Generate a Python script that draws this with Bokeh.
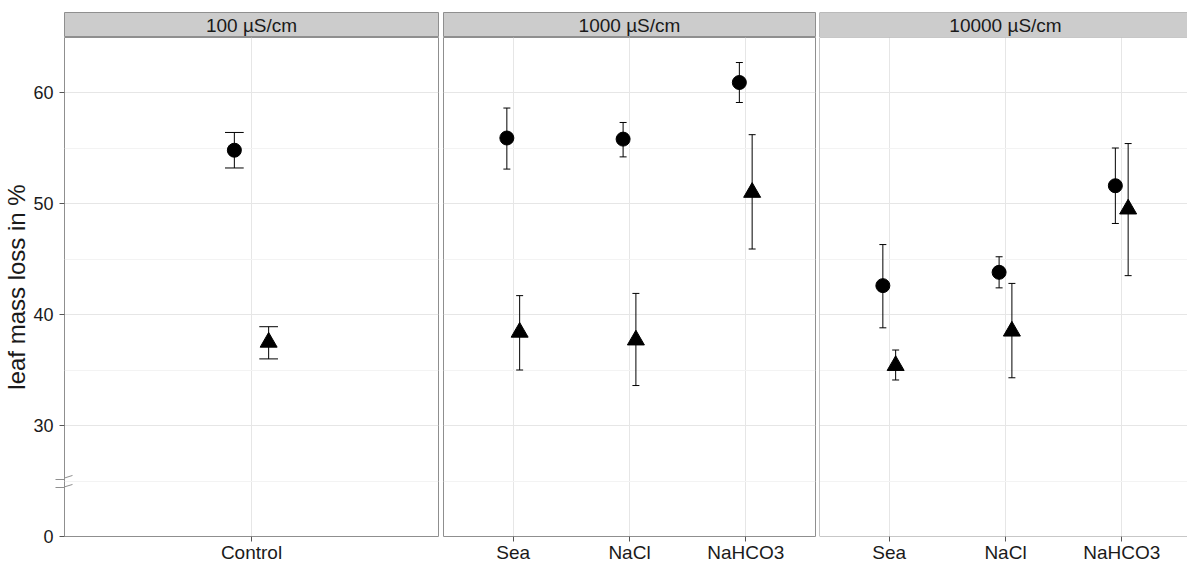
from bokeh.plotting import figure
from bokeh.layouts import row, column
from bokeh.models import Range1d, FixedTicker, LinearAxis, Grid, Span
from bokeh.core.properties import value
from bokeh.embed import file_html
from bokeh.resources import INLINE

# ---------------- data ----------------
facet_labels = ["100 µS/cm", "1000 µS/cm", "10000 µS/cm"]
facet_categories = [["Control"], ["Sea", "NaCl", "NaHCO3"], ["Sea", "NaCl", "NaHCO3"]]

circle_mean = [[54.8], [55.9, 55.8, 60.9], [42.6, 43.8, 51.6]]
circle_lower = [[53.2], [53.1, 54.2, 59.1], [38.8, 42.4, 48.2]]
circle_upper = [[56.4], [58.6, 57.3, 62.7], [46.3, 45.2, 55.0]]

triangle_mean = [[37.5], [38.4, 37.7, 51.0], [35.4, 38.5, 49.5]]
triangle_lower = [[36.0], [35.0, 33.6, 45.9], [34.1, 34.3, 43.5]]
triangle_upper = [[38.9], [41.7, 41.9, 56.2], [36.8, 42.8, 55.4]]

y_ticks = [20, 30, 40, 50, 60]          # 20 is the broken-axis position of "0"
y_tick_labels = ["0", "30", "40", "50", "60"]
y_minor = [25, 35, 45, 55]
y_label = "leaf mass loss in %"

# ---------------- style ----------------
FONT = "Liberation Sans"
BORDER = "#8F8F8F"
GRID = "#E6E6E6"
MINOR = "#F3F3F3"
TICK = "#555555"
TEXT = "#1A1A1A"
STRIP_FILL = "#CCCCCC"

PANEL_H = 499
STRIP_H = 25
PX_PER_UNIT = 11.1
Y_BOTTOM = 20.0
Y_TOP = Y_BOTTOM + PANEL_H / PX_PER_UNIT
DODGE = 0.055
CAP = 0.03
BREAK_OUT = [25.16, 24.37]     # axis-break marks (outside part)
BREAK_IN = [(25.27, 25.50), (24.47, 24.69)]  # axis-break marks (inside part)

frame_widths = [374, 372, 368]
full_widths = [374, 372, 372]
x_full_end = [1.6, 3.6, 3.6]
left_borders = [64, 0, 0]
right_borders = [5, 4, 0]


def base_fig(fw, fh, xr, yr, i, top, bottom):
    p = figure(frame_width=fw, frame_height=fh, x_range=xr, y_range=yr,
               output_backend="svg", toolbar_location=None,
               x_axis_location=None, y_axis_location=None,
               min_border_top=top, min_border_bottom=bottom,
               min_border_left=left_borders[i], min_border_right=right_borders[i])
    p.center = [c for c in p.center if not isinstance(c, Grid)]
    p.background_fill_color = "white"
    p.border_fill_color = "white"
    if i < 2:
        p.outline_line_color = BORDER
        p.outline_line_width = 1
    else:
        p.outline_line_color = None
    return p


def make_column(i):
    cats = facet_categories[i]
    xs = list(range(1, len(cats) + 1))
    fw = frame_widths[i]
    x_end = 0.4 + (x_full_end[i] - 0.4) * fw / full_widths[i]
    xr = Range1d(0.4, x_end)

    # ---- strip ----
    s = base_fig(fw, STRIP_H, xr, Range1d(0, 1), i, 12, 0)
    s.background_fill_color = STRIP_FILL
    s.text(x=[(0.4 + x_full_end[i]) / 2], y=[0.5], text=[facet_labels[i]],
           text_align="center", text_baseline="middle",
           text_font=value(FONT), text_font_size="19px", text_color=TEXT)
    if i == 2:
        for loc, dim in [(0.4, "height"), (0, "width"), (1, "width")]:
            s.add_layout(Span(location=loc, dimension=dim, line_color=BORDER, line_width=1))

    # ---- panel ----
    p = base_fig(fw, PANEL_H, xr, Range1d(Y_BOTTOM, Y_TOP), i, 0, 29)
    if i == 2:
        for loc, dim in [(0.4, "height"), (Y_BOTTOM, "width"), (Y_TOP, "width")]:
            p.add_layout(Span(location=loc, dimension=dim, line_color=BORDER, line_width=1))

    p.add_layout(Grid(dimension=0, ticker=FixedTicker(ticks=xs), grid_line_color=GRID, grid_line_width=1))
    p.add_layout(Grid(dimension=1, ticker=FixedTicker(ticks=[30, 40, 50, 60], minor_ticks=y_minor),
                      grid_line_color=GRID, grid_line_width=1,
                      minor_grid_line_color=MINOR, minor_grid_line_width=1))

    xaxis = LinearAxis(ticker=FixedTicker(ticks=xs, minor_ticks=[]),
                       major_label_overrides={x: c for x, c in zip(xs, cats)},
                       axis_line_color=None, major_tick_out=5, major_tick_in=0,
                       minor_tick_out=0, minor_tick_in=0,
                       major_tick_line_color=TICK,
                       major_label_text_font=FONT, major_label_text_font_size="19px",
                       major_label_text_color=TEXT, major_label_standoff=0)
    p.add_layout(xaxis, "below")

    if i == 0:
        yaxis = LinearAxis(ticker=FixedTicker(ticks=y_ticks, minor_ticks=BREAK_OUT),
                           major_label_overrides={t: l for t, l in zip(y_ticks, y_tick_labels)},
                           axis_line_color=None, major_tick_out=5, major_tick_in=0,
                           minor_tick_out=9, minor_tick_in=0,
                           major_tick_line_color=TICK, minor_tick_line_color=BORDER,
                           major_label_text_font=FONT, major_label_text_font_size="18px",
                           major_label_text_color=TEXT, major_label_standoff=2,
                           axis_label=y_label, axis_label_standoff=0,
                           axis_label_text_font=FONT, axis_label_text_font_size="24px",
                           axis_label_text_font_style="normal", axis_label_text_color=TEXT)
        p.add_layout(yaxis, "left")
        upx = fw / (x_end - 0.4)
        p.segment(x0=[0.4, 0.4], y0=[b[0] for b in BREAK_IN],
                  x1=[0.4 + 8 / upx] * 2, y1=[b[1] for b in BREAK_IN],
                  line_color=BORDER, line_width=1)

    for means, lows, highs, off, marker, size in [
        (circle_mean[i], circle_lower[i], circle_upper[i], -DODGE, "circle", 14),
        (triangle_mean[i], triangle_lower[i], triangle_upper[i], DODGE, "triangle", 17),
    ]:
        xx = [x + off for x in xs]
        p.segment(x0=xx, y0=lows, x1=xx, y1=highs, line_color="black", line_width=1)
        for ys in (lows, highs):
            p.segment(x0=[x - CAP for x in xx], y0=ys, x1=[x + CAP for x in xx], y1=ys,
                      line_color="black", line_width=1)
        p.scatter(x=xx, y=means, marker=marker, size=size, fill_color="black", line_color="black")

    return column(s, p, spacing=0)


layout = row(*[make_column(i) for i in range(3)], spacing=0)
open("out.html", "w").write(file_html(layout, INLINE))
